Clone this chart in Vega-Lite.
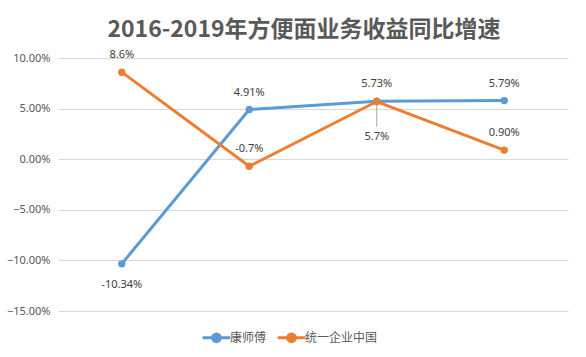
{
  "$schema": "https://vega.github.io/schema/vega-lite/v6.json",
  "autosize": {"type": "none"},
  "width": 510,
  "height": 253,
  "padding": {"left": 58, "top": 58, "right": 18, "bottom": 46},
  "background": "white",
  "title": {
    "text": "2016-2019年方便面业务收益同比增速",
    "font": "Noto Sans CJK SC",
    "fontSize": 23,
    "fontWeight": "bold",
    "color": "#595959",
    "anchor": "middle",
    "dx": -9,
    "offset": 7
  },
  "config": {
    "view": {"stroke": null},
    "font": "Noto Sans CJK SC"
  },
  "data": {
    "values": [
      {"year": "2016", "company": "康师傅", "value": -10.34, "label": "-10.34%"},
      {"year": "2017", "company": "康师傅", "value": 4.91, "label": "4.91%"},
      {"year": "2018", "company": "康师傅", "value": 5.73, "label": "5.73%"},
      {"year": "2019", "company": "康师傅", "value": 5.79, "label": "5.79%"},
      {"year": "2016", "company": "统一企业中国", "value": 8.6, "label": "8.6%"},
      {"year": "2017", "company": "统一企业中国", "value": -0.7, "label": "-0.7%"},
      {"year": "2018", "company": "统一企业中国", "value": 5.7, "label": "5.7%"},
      {"year": "2019", "company": "统一企业中国", "value": 0.9, "label": "0.90%"}
    ]
  },
  "encoding": {
    "x": {"field": "year", "type": "ordinal", "axis": null, "scale": {"type": "point", "padding": 0.5}},
    "y": {
      "field": "value",
      "type": "quantitative",
      "scale": {"domain": [-15, 10], "nice": false},
      "axis": {
        "title": null,
        "values": [-15, -10, -5, 0, 5, 10],
        "labelExpr": "format(datum.value, '.2f') + '%'",
        "domain": false,
        "ticks": false,
        "labelPadding": 8,
        "labelColor": "#595959",
        "labelFontSize": 11,
        "labelFont": "Noto Sans",
        "gridColor": "#D9D9D9",
        "gridWidth": 1
      }
    }
  },
  "layer": [
    {
      "mark": {"type": "rule", "color": "#A6A6A6", "strokeWidth": 1},
      "transform": [{"filter": "datum.company == '统一企业中国' && datum.year == '2018'"}],
      "encoding": {"y2": {"datum": 3.2}}
    },
    {
      "mark": {"type": "line", "strokeWidth": 3, "point": {"size": 55, "filled": true}},
      "encoding": {
        "color": {
          "field": "company",
          "type": "nominal",
          "scale": {"domain": ["康师傅", "统一企业中国"], "range": ["#5B9BD5", "#ED7D31"]},
          "legend": {
            "title": null,
            "orient": "none",
            "legendX": 148,
            "legendY": 269,
            "direction": "horizontal",
            "labelFontSize": 12,
            "labelColor": "#595959",
            "labelFont": "Noto Sans CJK SC",
            "labelOffset": 3,
            "symbolType": "M-1.6,0L1.6,0M-0.45,0A0.45,0.45 0 1,1 0.45,0A0.45,0.45 0 1,1 -0.45,0Z",
            "symbolSize": 300,
            "symbolStrokeWidth": 3,
            "columnPadding": 4
          }
        }
      }
    },
    {
      "mark": {"type": "text", "dy": -17, "fontSize": 11, "color": "#404040", "font": "Noto Sans"},
      "transform": [{"filter": "!(datum.company == '康师傅' && datum.year == '2016') && !(datum.company == '统一企业中国' && datum.year == '2018')"}],
      "encoding": {"text": {"field": "label"}}
    },
    {
      "mark": {"type": "text", "dy": 21, "fontSize": 11, "color": "#404040", "font": "Noto Sans"},
      "transform": [{"filter": "datum.company == '康师傅' && datum.year == '2016'"}],
      "encoding": {"text": {"field": "label"}}
    },
    {
      "mark": {"type": "text", "dy": 35, "fontSize": 11, "color": "#404040", "font": "Noto Sans"},
      "transform": [{"filter": "datum.company == '统一企业中国' && datum.year == '2018'"}],
      "encoding": {"text": {"field": "label"}}
    }
  ]
}
